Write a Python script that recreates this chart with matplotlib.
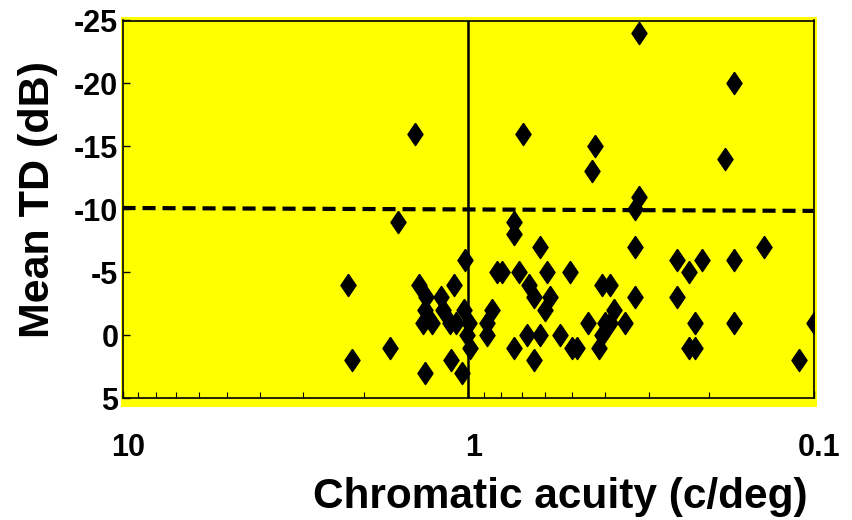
import matplotlib
matplotlib.use("Agg")
import matplotlib.pyplot as plt
import matplotlib.transforms as mtransforms
from matplotlib.patches import Rectangle

plt.rcParams["font.family"] = ["Liberation Sans", "DejaVu Sans"]
plt.rcParams["font.weight"] = "bold"
plt.rcParams["lines.scale_dashes"] = False

# Daten
acuity = [1.42, 1.59, 0.321, 0.170, 0.692, 0.428, 0.437, 0.180, 0.321, 0.328,
          0.738, 0.738, 0.618, 0.139, 0.328,
          1.02, 0.248, 0.210, 0.170,
          0.230, 0.824, 0.798, 0.714, 0.590, 0.506,
          2.22, 1.39, 1.10, 0.668, 0.409, 0.387,
          1.32, 1.20, 0.646, 0.578, 0.328, 0.248,
          1.33, 1.18, 1.03, 0.853, 0.597, 0.379,
          1.35, 1.27, 1.13, 1.08, 0.996, 0.881, 0.45, 0.400, 0.387, 0.351, 0.220, 0.170, 0.100,
          1.01, 0.881, 0.675, 0.618, 0.541, 0.409,
          1.68, 0.985, 0.738, 0.500, 0.483, 0.419, 0.230, 0.220,
          2.17, 1.12, 0.646, 0.110,
          1.33, 1.04]
mean_td = [-16, -9, -24, -20, -16, -15, -13, -14, -11, -10,
           -9, -8, -7, -7, -7,
           -6, -6, -6, -6,
           -5, -5, -5, -5, -5, -5,
           -4, -4, -4, -4, -4, -4,
           -3, -3, -3, -3, -3, -3,
           -2, -2, -2, -2, -2, -2,
           -1, -1, -1, -1, -1, -1, -1, -1, -1, -1, -1, -1, -1,
           0, 0, 0, 0, 0, 0,
           1, 1, 1, 1, 1, 1, 1, 1,
           2, 2, 2, 2,
           3, 3]

# Referenzlinien
cutoff_x = [10, 0.1]
cutoff_y = [-10.1, -9.87]
vline_x = 1.0

x_ticks = [10, 1, 0.1]
x_ticklabels = ["10", "1", "0.1"]
y_ticks = [-25, -20, -15, -10, -5, 0, 5]
y_ticklabels = ["-25", "-20", "-15", "-10", "-5", "0", "5"]

W, H = 852, 520
fig = plt.figure(figsize=(W / 100, H / 100), dpi=100)

# gelber Hintergrund, etwas groesser als die Achsen
bg = Rectangle((121 / W, 1 - 407 / H), (817 - 121) / W, (407 - 17) / H,
               transform=fig.transFigure, facecolor="#ffff00",
               edgecolor="none", zorder=-10)
fig.patches.append(bg)

ax = fig.add_axes([122.5 / W, 1 - 398 / H, (813.5 - 122.5) / W, (398 - 20.5) / H])
ax.set_facecolor("#ffff00")

diamond = [(0, 1), (0.68, 0), (0, -1), (-0.68, 0), (0, 1)]
ax.plot(acuity, mean_td, linestyle="none", marker=diamond, markersize=16,
        color="black", zorder=3)
ax.plot(cutoff_x, cutoff_y, color="black", linewidth=3, dashes=(9.4, 5), zorder=2)
ax.axvline(vline_x, color="black", linewidth=1.8, zorder=2)

ax.set_xscale("log")
ax.set_xlim(10, 0.1)
ax.set_ylim(5, -25)

ax.set_xticks(x_ticks)
ax.set_xticklabels(x_ticklabels)
ax.set_yticks(y_ticks)
ax.set_yticklabels(y_ticklabels)
ax.tick_params(axis="x", which="major", direction="in", length=5, width=1, pad=25,
               labelsize=22)
ax.tick_params(axis="x", which="minor", direction="in", length=4.5, width=0.8)
ax.tick_params(axis="y", which="major", direction="in", length=5, width=1, pad=3,
               labelsize=22)
ax.tick_params(axis="y", which="minor", left=False)

offset = mtransforms.ScaledTranslation(6 / 100, 0, fig.dpi_scale_trans)
for lab in ax.get_xticklabels():
    lab.set_transform(lab.get_transform() + offset)

for s in ax.spines.values():
    s.set_linewidth(1.2)

ax.set_xlabel("Chromatic acuity (c/deg)", fontsize=30.5, fontweight="bold", va="center")
ax.xaxis.set_label_coords((560 - 122.5) / 691, (398 - 497) / 377.5)
ax.set_ylabel("Mean TD (dB)", fontsize=31, fontweight="bold", va="center")
ax.yaxis.set_label_coords((38 - 122.5) / 691, (398 - 200) / 377.5)

plt.savefig("out.png", dpi=100)
